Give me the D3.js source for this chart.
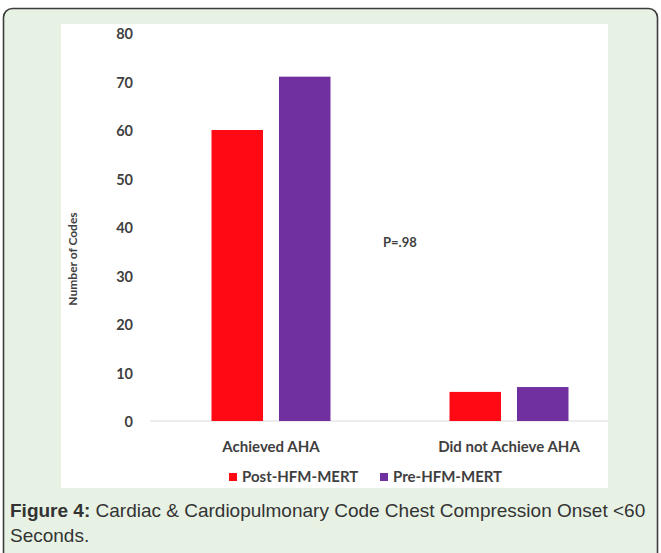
<!DOCTYPE html>
<html>
<head>
<meta charset="utf-8">
<script src="https://cdn.jsdelivr.net/npm/d3@7"></script>
<style>
  html, body { margin: 0; padding: 0; background: #ffffff; }
  svg { display: block; }
</style>
</head>
<body>
<svg id="chart" width="661" height="553"></svg>
<script>
// Chart data
const categories = ["Achieved AHA", "Did not Achieve AHA"];
const seriesNames = ["Post-HFM-MERT", "Pre-HFM-MERT"];
const postValues = [60, 6];
const preValues = [71, 7];
const yTicks = [0, 10, 20, 30, 40, 50, 60, 70, 80];
const seriesColors = ["#ff0a14", "#7030a0"];

const rows = categories.map((c, i) => ({
  category: c,
  values: [postValues[i], preValues[i]]
}));

const svg = d3.select("#chart");
const chartFont = "Lato, 'Open Sans', sans-serif";
const textColor = "#3f3f3f";

// Framed figure box
svg.append("rect")
  .attr("x", 3.5).attr("y", 8.5)
  .attr("width", 654).attr("height", 580)
  .attr("rx", 9).attr("ry", 9)
  .attr("fill", "#e7f2e5")
  .attr("stroke", "#3d3d3d")
  .attr("stroke-width", 1.6);

// White chart panel
svg.append("rect")
  .attr("x", 61).attr("y", 24)
  .attr("width", 547).attr("height", 464)
  .attr("fill", "#ffffff");

svg.append("clipPath").attr("id", "panel")
  .append("rect").attr("x", 61).attr("y", 24).attr("width", 547).attr("height", 464);

const y = d3.scaleLinear().domain([0, 80]).range([421, 33]);
const x0 = d3.scaleBand().domain(categories).range([152, 628]).paddingInner(0).paddingOuter(0);
const x1 = d3.scaleBand().domain(seriesNames).range([-59.5, 59.5]).paddingInner(0.237).paddingOuter(0);
const color = d3.scaleOrdinal().domain(seriesNames).range(seriesColors);

const plot = svg.append("g").attr("clip-path", "url(#panel)");

// Baseline
plot.append("line")
  .attr("x1", 150).attr("x2", 628)
  .attr("y1", y(0)).attr("y2", y(0))
  .attr("stroke", "#d9d9d9").attr("stroke-width", 1.2);

// Bars
const groups = plot.selectAll("g.group")
  .data(rows)
  .join("g")
  .attr("class", "group")
  .attr("transform", d => `translate(${x0(d.category) + x0.bandwidth() / 2},0)`);

groups.selectAll("rect")
  .data(d => d.values.map((v, i) => ({ series: seriesNames[i], value: v })))
  .join("rect")
  .attr("x", d => x1(d.series))
  .attr("width", x1.bandwidth())
  .attr("y", d => y(d.value))
  .attr("height", d => y(0) - y(d.value))
  .attr("fill", d => color(d.series));

// Y axis tick labels
const yAxis = d3.axisLeft(y).tickValues(yTicks).tickSize(0).tickPadding(0);
const yg = svg.append("g")
  .attr("transform", "translate(133,0)")
  .call(yAxis);
yg.select(".domain").remove();
yg.selectAll("text")
  .attr("font-family", chartFont)
  .attr("font-size", 14.5)
  .attr("font-weight", 700)
  .attr("fill", textColor)
  .attr("dy", "0.38em");

// Category axis labels
const xAxis = d3.axisBottom(x0).tickSize(0).tickPadding(0);
const xg = svg.append("g")
  .attr("transform", `translate(0,${y(0)})`)
  .call(xAxis);
xg.select(".domain").remove();
xg.selectAll("text")
  .attr("font-family", chartFont)
  .attr("font-size", 15)
  .attr("font-weight", 700)
  .attr("fill", textColor)
  .attr("dy", null)
  .attr("y", 31);

// Y axis title
svg.append("text")
  .attr("transform", "translate(77,259) rotate(-90)")
  .attr("text-anchor", "middle")
  .attr("font-family", chartFont)
  .attr("font-size", 12)
  .attr("font-weight", 700)
  .attr("fill", textColor)
  .text("Number of Codes");

// Significance annotation
svg.append("text")
  .attr("x", 383).attr("y", 247)
  .attr("font-family", chartFont)
  .attr("font-size", 13)
  .attr("font-weight", 700)
  .attr("fill", textColor)
  .text("P=.98");

// Legend
const legendItems = [
  { name: seriesNames[0], x: 229 },
  { name: seriesNames[1], x: 380 }
];
const legend = svg.append("g");
const li = legend.selectAll("g").data(legendItems).join("g")
  .attr("transform", d => `translate(${d.x},477)`);
li.append("rect")
  .attr("x", 0).attr("y", -4)
  .attr("width", 8).attr("height", 8)
  .attr("fill", d => color(d.name));
li.append("text")
  .attr("x", 13).attr("y", 0)
  .attr("dy", "0.36em")
  .attr("font-family", chartFont)
  .attr("font-size", 15)
  .attr("font-weight", 700)
  .attr("fill", textColor)
  .text(d => d.name);

// Figure caption
const captionFont = "'Liberation Sans', Arial, sans-serif";
const cap = svg.append("text")
  .attr("x", 10).attr("y", 517)
  .attr("font-family", captionFont)
  .attr("font-size", 19)
  .attr("fill", "#333333");
cap.append("tspan").attr("font-weight", 700).text("Figure 4:");
cap.append("tspan").text(" Cardiac & Cardiopulmonary Code Chest Compression Onset <60");
svg.append("text")
  .attr("x", 10).attr("y", 542)
  .attr("font-family", captionFont)
  .attr("font-size", 19)
  .attr("fill", "#333333")
  .text("Seconds.");
</script>
</body>
</html>
